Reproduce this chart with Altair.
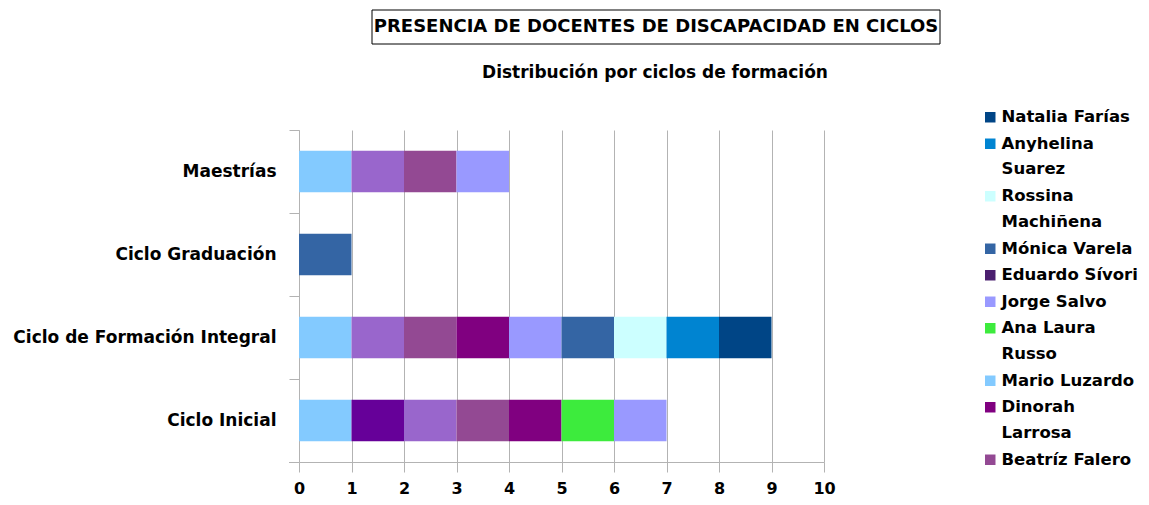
import altair as alt
import pandas as pd

# ---------------- data ----------------
ciclos = ["Maestrías", "Ciclo Graduación", "Ciclo de Formación Integral", "Ciclo Inicial"]

# series in stacking order (left to right); first three are not shown in the (truncated) legend
series = ["Docente 13", "Docente 12", "Docente 11", "Beatríz Falero", "Dinorah Larrosa",
          "Mario Luzardo", "Ana Laura Russo", "Jorge Salvo", "Eduardo Sívori",
          "Mónica Varela", "Rossina Machiñena", "Anyhelina Suarez", "Natalia Farías"]
colores = ["#83caff", "#660099", "#9966cc", "#934993", "#800080",
           "#83caff", "#3deb3d", "#9999ff", "#4b1f6f",
           "#3465a4", "#ccffff", "#0084d1", "#004586"]

# values for [Maestrías, Ciclo Graduación, Ciclo de Formación Integral, Ciclo Inicial]
valores = {
    "Docente 13":        [1, 0, 1, 1],
    "Docente 12":        [0, 0, 0, 1],
    "Docente 11":        [1, 0, 1, 1],
    "Beatríz Falero":    [1, 0, 1, 1],
    "Dinorah Larrosa":   [0, 0, 1, 1],
    "Mario Luzardo":     [0, 0, 0, 0],
    "Ana Laura Russo":   [0, 0, 0, 1],
    "Jorge Salvo":       [1, 0, 1, 1],
    "Eduardo Sívori":    [0, 0, 0, 0],
    "Mónica Varela":     [0, 1, 1, 0],
    "Rossina Machiñena": [0, 0, 1, 0],
    "Anyhelina Suarez":  [0, 0, 1, 0],
    "Natalia Farías":    [0, 0, 1, 0],
}

legend_names = ["Natalia Farías", "Anyhelina Suarez", "Rossina Machiñena", "Mónica Varela",
                "Eduardo Sívori", "Jorge Salvo", "Ana Laura Russo", "Mario Luzardo",
                "Dinorah Larrosa", "Beatríz Falero"]
x_ticks = [0, 1, 2, 3, 4, 5, 6, 7, 8, 9, 10]

titulo = "PRESENCIA DE DOCENTES DE DISCAPACIDAD EN CICLOS"
subtitulo = "Distribución por ciclos de formación"

rows = []
for i, s in enumerate(series):
    for c, v in zip(ciclos, valores[s]):
        if v > 0:
            rows.append({"ciclo": c, "docente": s, "valor": v, "orden": i})
df = pd.DataFrame(rows)

FONT = "DejaVu Sans"
GRID = "#b3b3b3"

label_expr = (
    "datum.label == 'Anyhelina Suarez' ? ['Anyhelina', 'Suarez'] : "
    "datum.label == 'Rossina Machiñena' ? ['Rossina', 'Machiñena'] : "
    "datum.label == 'Ana Laura Russo' ? ['Ana Laura', 'Russo'] : "
    "datum.label == 'Dinorah Larrosa' ? ['Dinorah', 'Larrosa'] : datum.label"
)

bars = alt.Chart(df).mark_bar(size=41.5).encode(
    y=alt.Y("ciclo:N", sort=ciclos, title=None,
            scale=alt.Scale(paddingInner=0.5, paddingOuter=0.25),
            axis=alt.Axis(labelFont=FONT, labelFontWeight="bold", labelFontSize=17,
                          labelColor="black", labelPadding=13, domainColor=GRID,
                          tickColor=GRID, tickSize=10, tickOffset=-41.5, labelOffset=41.5,
                          labelLimit=400, grid=False)),
    x=alt.X("valor:Q", stack="zero", title=None,
            scale=alt.Scale(domain=[0, 10], nice=False),
            axis=alt.Axis(values=x_ticks, format="d", labelFont=FONT, labelFontWeight="bold",
                          labelFontSize=16, labelColor="black", labelPadding=8,
                          labelFlush=False,
                          domainColor=GRID, tickColor=GRID, tickSize=10,
                          gridColor=GRID, grid=True)),
    color=alt.Color("docente:N",
                    scale=alt.Scale(domain=series, range=colores),
                    legend=alt.Legend(orient="none", legendX=683, legendY=-21,
                                      values=legend_names, title=None,
                                      symbolType="square", symbolSize=110,
                                      symbolStrokeWidth=0,
                                      labelFont=FONT, labelFontWeight="bold",
                                      labelFontSize=16.5, labelColor="black",
                                      labelExpr=label_expr, labelLimit=300,
                                      rowPadding=9.5, labelOffset=3)),
    order=alt.Order("orden:Q"),
)

tdf = pd.DataFrame({"t": [titulo], "s": [subtitulo]})
box = alt.Chart(tdf).mark_rect(fill="white", stroke="black", strokeWidth=1).encode(
    x=alt.value(73), x2=alt.value(641), y=alt.value(-120), y2=alt.value(-86))
ttxt = alt.Chart(tdf).mark_text(font=FONT, fontWeight="bold", fontSize=18, color="black",
                                align="center", baseline="middle").encode(
    text="t:N", x=alt.value(357), y=alt.value(-103))
stxt = alt.Chart(tdf).mark_text(font=FONT, fontWeight="bold", fontSize=17, color="black",
                                align="center", baseline="middle").encode(
    text="s:N", x=alt.value(356), y=alt.value(-57))
# bottom tick of the category axis (axis frame decoration)
btick = alt.Chart(tdf).mark_rule(color=GRID, strokeWidth=1).encode(
    x=alt.value(-10), x2=alt.value(0), y=alt.value(332.5))

chart = alt.layer(bars, btick, box, ttxt, stxt).properties(
    width=525, height=332,
    autosize=alt.AutoSizeParams(type="none"),
    padding={"left": 291, "top": 122, "right": 317, "bottom": 35},
).configure(background="white", style={"guide-label": {"lineHeight": 25.5}}
).configure_view(stroke=None)

chart.save("out.html", embed_options={"renderer": "svg", "actions": False})
